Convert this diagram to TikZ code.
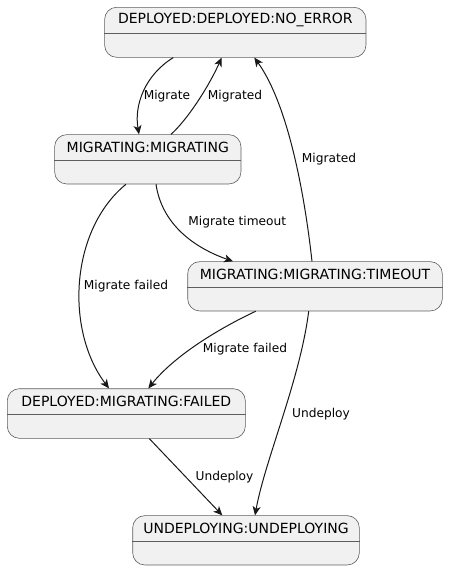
\documentclass[tikz,border=0pt]{standalone}
\usepackage{fontspec}
\setmainfont{DejaVu Sans}
\usetikzlibrary{arrows.meta,calc}
\definecolor{boxfill}{HTML}{F1F1F1}
\definecolor{boxline}{HTML}{5E5E5E}
\definecolor{edgecol}{HTML}{181818}
\tikzset{
  statebox/.style={draw=boxline, fill=boxfill, line width=0.6pt, rounded corners=12pt, inner sep=0pt},
  statetitle/.style={font=\fontsize{14}{16}\selectfont, text=black, inner sep=0pt},
  sepline/.style={draw=boxline, line width=0.6pt},
  edge/.style={draw=edgecol, line width=1pt, -{Stealth[length=9pt,width=8pt,inset=2.5pt]}},
  elabel/.style={font=\fontsize{12.2}{14}\selectfont, text=black, inner sep=0pt},
}
\begin{document}
\begin{tikzpicture}[x=1pt,y=-1pt]
\useasboundingbox (0,0) rectangle (448,570);
% states
\node[statebox, minimum width=261.3pt, minimum height=50pt] (A) at (235.3,32.3) {};
\node[statebox, minimum width=186.3pt, minimum height=49.3pt] (B) at (147.8,159.3) {};
\node[statebox, minimum width=254.6pt, minimum height=49.3pt] (C) at (315,286.3) {};
\node[statebox, minimum width=238pt, minimum height=49.6pt] (D) at (126.3,413.5) {};
\node[statebox, minimum width=226.6pt, minimum height=49.3pt] (E) at (246,540.3) {};
\foreach \n in {A,B,C,D,E}{
  \draw[sepline] ([yshift=-26pt]\n.north west) -- ([yshift=-26pt]\n.north east);
}
\node[statetitle] (At) at ($(A.north)+(0,13.4)$) {DEPLOYED:DEPLOYED:NO\_ERROR};
\node[statetitle] (Bt) at ($(B.north)+(0,13.4)$) {MIGRATING:MIGRATING};
\node[statetitle] (Ct) at ($(C.north)+(0,13.4)$) {MIGRATING:MIGRATING:TIMEOUT};
\node[statetitle] (Dt) at ($(D.north)+(0,13.4)$) {DEPLOYED:MIGRATING:FAILED};
\node[statetitle] (Et) at ($(E.north)+(0,13.4)$) {UNDEPLOYING:UNDEPLOYING};
% edges
\draw[edge] ([xshift=-62pt]A.south) .. controls (145,75) and (134,105) .. ([xshift=-8.8pt]B.north);
\draw[edge] ([xshift=23.2pt]B.north) .. controls (187,120) and (208,88) .. ([xshift=-13.6pt]A.south);
\draw[edge] ([xshift=-3pt]C.north) .. controls (303,180) and (285,100) .. ([xshift=19pt]A.south);
\draw[edge] ([xshift=8.2pt]B.south) .. controls (162,225) and (195,248) .. ([xshift=-82pt]C.north);
\draw[edge] ([xshift=-21.8pt]B.south) .. controls (70,230) and (65,330) .. ([xshift=-17.3pt]D.north);
\draw[edge] ([xshift=-59.3pt]C.south) .. controls (220,328) and (175,355) .. ([xshift=22pt]D.north);
\draw[edge] ([xshift=-6.3pt]C.south) .. controls (300,380) and (265,460) .. ([xshift=9pt]E.north);
\draw[edge] ([xshift=23pt]D.south) -- ([xshift=-23.7pt]E.north);
% labels
\node[elabel] (l1) at (167,96) {Migrate};
\node[elabel] (l2) at (235,96) {Migrated};
\node[elabel] (l3) at (329,159.5) {Migrated};
\node[elabel] (l4) at (237.3,222.3) {Migrate timeout};
\node[elabel] (l5) at (126,286) {Migrate failed};
\node[elabel] (l6) at (245,349.5) {Migrate failed};
\node[elabel] (l7) at (321,414) {Undeploy};
\node[elabel] (l8) at (224.5,477) {Undeploy};
\end{tikzpicture}
\end{document}
